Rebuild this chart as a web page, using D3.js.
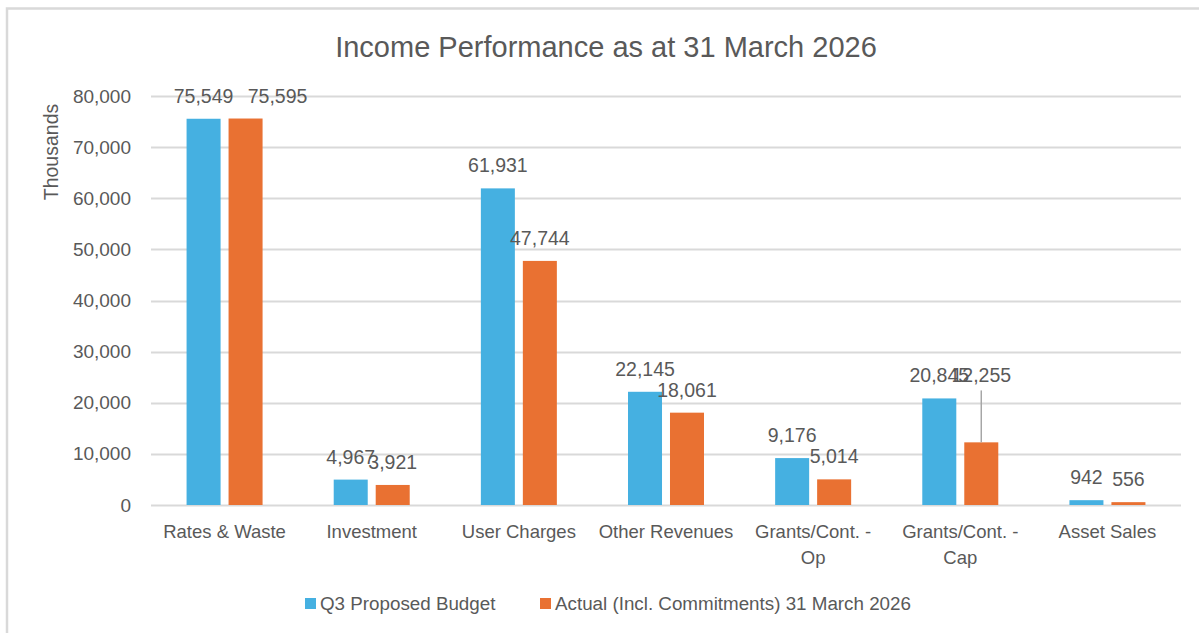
<!DOCTYPE html>
<html>
<head>
<meta charset="utf-8">
<script src="https://cdn.jsdelivr.net/npm/d3@7"></script>
<style>
  body { margin: 0; background: #fff; }
  svg { display: block; }
</style>
</head>
<body>
<svg id="chart"></svg>
<script>
var screen = {width: 1199, height: 633};
var margins = {top: 96, right: 18, bottom: 128, left: 151};

// chart values
var categories = ["Rates & Waste", "Investment", "User Charges", "Other Revenues", "Grants/Cont. - Op", "Grants/Cont. - Cap", "Asset Sales"];
var seriesNames = ["Q3 Proposed Budget", "Actual (Incl. Commitments) 31 March 2026"];
var budgetValues = [75549, 4967, 61931, 22145, 9176, 20845, 942];
var actualValues = [75595, 3921, 47744, 18061, 5014, 12255, 556];
var yTicks = [0, 10000, 20000, 30000, 40000, 50000, 60000, 70000, 80000];

var colors = ["#45b0e1", "#e97132"];
var textColor = "#595959";
var gridColor = "#d9d9d9";

var svg = d3.select("#chart")
    .attr("width", screen.width)
    .attr("height", screen.height);

var width = screen.width - margins.left - margins.right;
var height = screen.height - margins.top - margins.bottom;

// frame of the chart area
svg.append("path")
    .attr("d", "M7," + screen.height + "V8.5H" + screen.width)
    .attr("fill", "none")
    .attr("stroke", gridColor)
    .attr("stroke-width", 2.5);

svg.append("text")
    .attr("x", 606)
    .attr("y", 57)
    .attr("text-anchor", "middle")
    .attr("fill", textColor)
    .style("font-family", "'Liberation Sans', Arial, sans-serif")
    .style("font-size", "29px")
    .text("Income Performance as at 31 March 2026");

var graph = svg.append("g")
    .attr("transform", "translate(" + margins.left + "," + margins.top + ")");

var xScale = d3.scaleBand()
    .domain(categories)
    .range([0, width]);

var xInner = d3.scaleBand()
    .domain([0, 1])
    .range([-38, 38])
    .paddingInner(0.19);

var yScale = d3.scaleLinear()
    .domain([0, 80000])
    .range([height, 0]);

// gridlines
graph.append("g")
    .selectAll("line")
    .data(yTicks)
    .enter()
    .append("line")
    .attr("x1", 0)
    .attr("x2", width)
    .attr("y1", function(d){return Math.round(yScale(d)) + 0.5;})
    .attr("y2", function(d){return Math.round(yScale(d)) + 0.5;})
    .attr("stroke", gridColor)
    .attr("stroke-width", 2);

var yAxis = d3.axisLeft(yScale)
    .tickValues(yTicks)
    .tickFormat(d3.format(","))
    .tickSize(0)
    .tickPadding(20);

graph.append("g")
    .attr("id", "yAxis")
    .call(yAxis)
    .call(function(g){g.select(".domain").remove();})
    .selectAll("text")
    .attr("fill", textColor)
    .style("font-family", "'Liberation Sans', Arial, sans-serif")
    .style("font-size", "19px");

svg.append("text")
    .attr("transform", "translate(58,152) rotate(-90)")
    .attr("text-anchor", "middle")
    .attr("fill", textColor)
    .style("font-family", "'Liberation Sans', Arial, sans-serif")
    .style("font-size", "19.5px")
    .text("Thousands");

// bars
var rows = categories.map(function(c, i)
{
    return {category: c, values: [budgetValues[i], actualValues[i]]};
});

var groups = graph.selectAll(".cat")
    .data(rows)
    .enter()
    .append("g")
    .attr("class", "cat")
    .attr("transform", function(d){return "translate(" + (xScale(d.category) + xScale.bandwidth() / 2) + ",0)";});

groups.selectAll("rect")
    .data(function(d){return d.values.map(function(v, s){return {value: v, series: s, category: d.category};});})
    .enter()
    .append("rect")
    .attr("x", function(d){return xInner(d.series);})
    .attr("width", xInner.bandwidth())
    .attr("y", function(d){return yScale(d.value);})
    .attr("height", function(d){return height - yScale(d.value);})
    .attr("fill", function(d){return colors[d.series];});

// data labels; two were moved by hand in the original
// (75,595 pushed right, 12,255 lifted with a leader line)
var movedLabel = {category: "Grants/Cont. - Cap", series: 1, y: yScale(20845) - 16};
var shiftedLabel = {category: "Rates & Waste", series: 1, dx: 32};

groups.selectAll(".lbl")
    .data(function(d){return d.values.map(function(v, s){return {value: v, series: s, category: d.category};});})
    .enter()
    .append("text")
    .attr("class", "lbl")
    .attr("x", function(d)
    {
        var x = xInner(d.series) + xInner.bandwidth() / 2;
        if (d.category == shiftedLabel.category && d.series == shiftedLabel.series) x += shiftedLabel.dx;
        return x;
    })
    .attr("y", function(d)
    {
        if (d.category == movedLabel.category && d.series == movedLabel.series) return movedLabel.y;
        return yScale(d.value) - 16;
    })
    .attr("text-anchor", "middle")
    .attr("fill", textColor)
    .style("font-family", "'Liberation Sans', Arial, sans-serif")
    .style("font-size", "19.5px")
    .text(function(d){return d3.format(",")(d.value);});

groups.filter(function(d){return d.category == movedLabel.category;})
    .append("line")
    .attr("x1", xInner(movedLabel.series) + xInner.bandwidth() / 2)
    .attr("x2", xInner(movedLabel.series) + xInner.bandwidth() / 2)
    .attr("y1", movedLabel.y + 8)
    .attr("y2", function(d){return yScale(d.values[movedLabel.series]);})
    .attr("stroke", "#a6a6a6")
    .attr("stroke-width", 1.5);

// category labels, wrapped after " - "
graph.append("g")
    .selectAll("text")
    .data(categories)
    .enter()
    .append("text")
    .attr("x", function(d){return xScale(d) + xScale.bandwidth() / 2;})
    .attr("y", height + 33)
    .attr("text-anchor", "middle")
    .attr("fill", textColor)
    .style("font-family", "'Liberation Sans', Arial, sans-serif")
    .style("font-size", "18.5px")
    .each(function(d)
    {
        var parts = d.split(" - ");
        var lines = parts.length > 1 ? [parts[0] + " -", parts[1]] : [d];
        var t = d3.select(this);
        lines.forEach(function(line, i)
        {
            t.append("tspan")
                .attr("x", xScale(d) + xScale.bandwidth() / 2)
                .attr("dy", i == 0 ? 0 : 26)
                .text(line);
        });
    });

// legend
var legendX = [305, 540];
var legend = svg.append("g")
    .selectAll("g")
    .data(seriesNames)
    .enter()
    .append("g")
    .attr("transform", function(d, i){return "translate(" + legendX[i] + ",598)";});

legend.append("rect")
    .attr("width", 11)
    .attr("height", 11)
    .attr("fill", function(d, i){return colors[i];});

legend.append("text")
    .attr("x", 15)
    .attr("y", 12)
    .attr("fill", textColor)
    .style("font-family", "'Liberation Sans', Arial, sans-serif")
    .style("font-size", "18.8px")
    .text(function(d){return d;});
</script>
</body>
</html>
